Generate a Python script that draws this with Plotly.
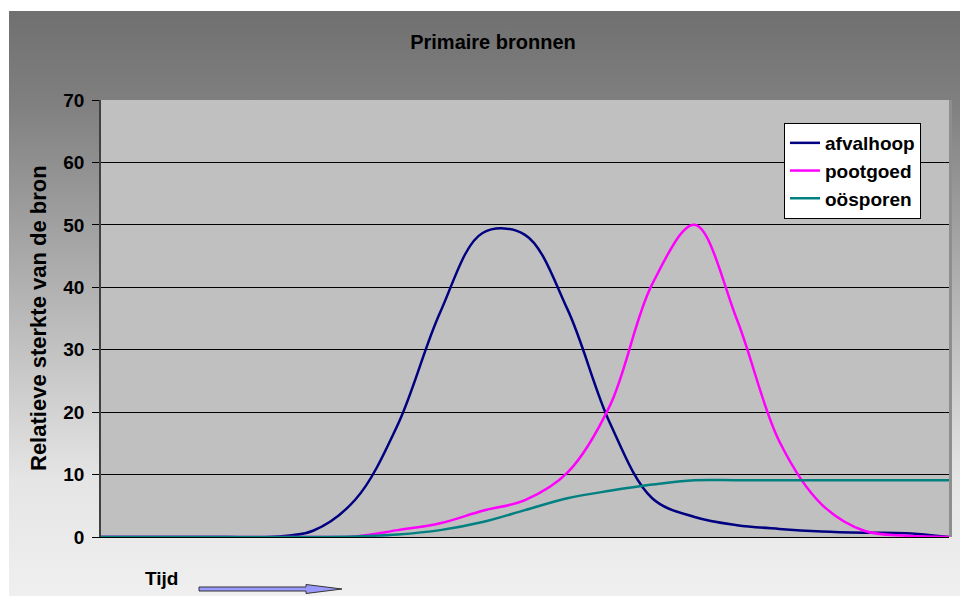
import base64
import plotly.graph_objects as go

# ---- data ----
tijd = list(range(21))
afvalhoop = [0, 0, 0, 0, 0, 1.0, 6.0, 18.0, 36.0, 48.7, 48.4, 36.5, 18.3, 6.2, 3.2, 1.9, 1.3, 0.9, 0.7, 0.6, 0]
pootgoed = [0, 0, 0, 0, 0, 0, 0.1, 1.1, 2.2, 4.2, 5.9, 10.3, 21.0, 40.5, 50.0, 34.8, 15.3, 5.2, 1.0, 0.2, 0]
oosporen = [0, 0, 0, 0, 0, 0, 0.1, 0.4, 1.1, 2.4, 4.3, 6.2, 7.4, 8.4, 9.1, 9.1, 9.1, 9.1, 9.1, 9.1, 9.1]
series_names = ["afvalhoop", "pootgoed", "oösporen"]
series_colors = ["#000080", "#FF00FF", "#008080"]
y_ticks = [0, 10, 20, 30, 40, 50, 60, 70]

# page offset of the figure (browser body margin)
OFF = 8
W, H = 968, 596
# plot area in page pixels: x 101..949, y 100..537
L, R, T, B = 101 - OFF, W - (949 - OFF), 100 - OFF, H - (537 - OFF)
PW, PH = W - L - R, H - T - B


def px(x):  # page pixel -> paper
    return (x - OFF - L) / PW


def py(y):
    return (H - B - (y - OFF)) / PH


FONT = "Liberation Sans, Arial, sans-serif"

fig = go.Figure()
for name, vals, col in zip(series_names, [afvalhoop, pootgoed, oosporen], series_colors):
    fig.add_trace(go.Scatter(x=tijd, y=vals, name=name, mode="lines",
                             line=dict(color=col, width=2.5, shape="spline", smoothing=1.0)))

# gradient background as svg image
svg = ('<svg xmlns="http://www.w3.org/2000/svg" width="100" height="100" viewBox="0 0 100 100" '
       'preserveAspectRatio="none"><defs><linearGradient id="g" x1="0" y1="0" x2="0" y2="1">'
       '<stop offset="0" stop-color="#707070"/><stop offset="0.152" stop-color="#7F7F7F"/>'
       '<stop offset="0.791" stop-color="#E5E5E5"/><stop offset="1" stop-color="#F0F0F0"/>'
       '</linearGradient></defs><rect width="100" height="100" fill="url(#g)"/></svg>')
src = "data:image/svg+xml;base64," + base64.b64encode(svg.encode()).decode()

fig.update_layout(
    width=W, height=H,
    margin=dict(l=L, r=R, t=T, b=B, pad=0),
    paper_bgcolor="white",
    plot_bgcolor="rgba(0,0,0,0)",
    images=[dict(source=src, xref="paper", yref="paper", x=px(9), y=py(11),
                 sizex=px(W + OFF) - px(9), sizey=py(11) - py(H + OFF), xanchor="left", yanchor="top",
                 sizing="stretch", layer="below")],
    shapes=[
        dict(type="rect", xref="paper", yref="paper", x0=0, x1=1, y0=0, y1=1,
             fillcolor="#C0C0C0", line=dict(width=0), layer="below"),
        dict(type="rect", xref="paper", yref="paper", x0=1, x1=px(952), y0=0, y1=1,
             fillcolor="#8E8E8E", line=dict(width=0), layer="below"),
        # arrow next to "Tijd"
        dict(type="path", xref="paper", yref="paper",
             path=(f"M {px(199)} {py(587)} L {px(306)} {py(587)} L {px(306)} {py(584.5)} "
                   f"L {px(342)} {py(589)} L {px(306)} {py(593.5)} L {px(306)} {py(591)} "
                   f"L {px(199)} {py(591)} Z"),
             fillcolor="#9999FF", line=dict(color="#333333", width=1), layer="above"),
    ],
    title=dict(text="Primaire bronnen", xref="container", yref="container",
               x=(493 - OFF) / W, y=1 - (42 - OFF) / H, xanchor="center", yanchor="middle",
               font=dict(family=FONT, size=20, color="black", weight="bold")),
    xaxis=dict(range=[0, 20], showgrid=False, zeroline=False, showticklabels=False,
               ticks="", showline=True, linecolor="black", linewidth=1, fixedrange=True),
    yaxis=dict(range=[0, 70], tickvals=y_ticks, showgrid=True, gridcolor="black", gridwidth=1,
               zeroline=False, ticks="outside", ticklen=7, tickcolor="black", tickwidth=1,
               showline=True, linecolor="#404040", linewidth=1.5,
               tickfont=dict(family=FONT, size=19, color="black", weight="bold"),
               ticklabelstandoff=4),
    legend=dict(x=px(784), y=py(123), xanchor="left", yanchor="top",
                bgcolor="white", bordercolor="black", borderwidth=1,
                font=dict(family=FONT, size=19, color="black", weight="bold"),
                tracegroupgap=0, itemwidth=30),
    annotations=[
        dict(text="Relatieve sterkte van de bron", xref="paper", yref="paper",
             x=px(38), y=py(318), textangle=-90, showarrow=False, xanchor="center", yanchor="middle",
             font=dict(family=FONT, size=22, color="black", weight="bold")),
        dict(text="Tijd", xref="paper", yref="paper", x=px(161), y=py(578), showarrow=False,
             xanchor="center", yanchor="middle",
             font=dict(family=FONT, size=19, color="black", weight="bold")),
    ],
    showlegend=True,
)

fig.write_html("out.html")
